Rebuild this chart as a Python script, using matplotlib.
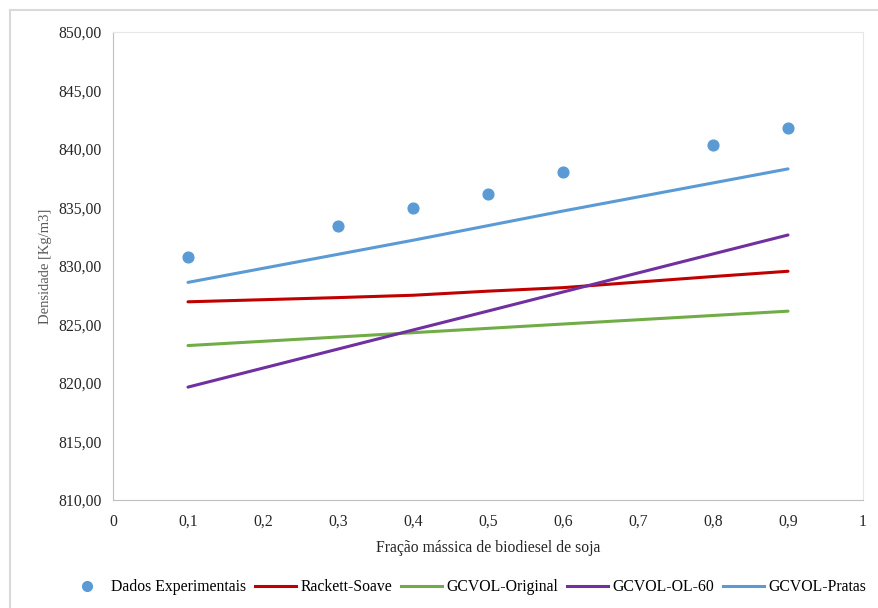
import matplotlib.pyplot as plt
from matplotlib.ticker import FuncFormatter
from matplotlib.lines import Line2D

plt.rcParams['font.family'] = ['Liberation Serif', 'DejaVu Serif']

# fração mássica e dados
x = [0.1, 0.3, 0.4, 0.5, 0.6, 0.8, 0.9]
experimental = [830.8, 833.45, 834.98, 836.18, 838.05, 840.36, 841.81]
rackett = [826.94, 827.3, 827.5, 827.85, 828.15, 829.1, 829.55]
gcvol_orig = [823.2, 823.93, 824.3, 824.67, 825.04, 825.77, 826.14]
gcvol_ol60 = [819.65, 822.9, 824.53, 826.15, 827.78, 831.03, 832.65]
gcvol_pratas = [828.6, 831.0, 832.2, 833.45, 834.7, 837.1, 838.3]

fs = 11.3

fig = plt.figure(figsize=(8.79, 6.08), dpi=100)
ax = fig.add_axes([113/879, 1-500/608, 750/879, 468/608])

ax.plot(x, rackett, color='#C00000', lw=2.2, label='Rackett-Soave', solid_capstyle='round')
ax.plot(x, gcvol_orig, color='#70AD47', lw=2.2, label='GCVOL-Original', solid_capstyle='round')
ax.plot(x, gcvol_ol60, color='#7030A0', lw=2.2, label='GCVOL-OL-60', solid_capstyle='round')
ax.plot(x, gcvol_pratas, color='#5B9BD5', lw=2.2, label='GCVOL-Pratas', solid_capstyle='round')
ax.scatter(x, experimental, color='#5B9BD5', s=60, zorder=5, label='Dados Experimentais')

ax.set_xlim(0, 1)
ax.set_ylim(810, 850)
ax.set_xticks([i/10 for i in range(11)])
ax.set_yticks(range(810, 851, 5))
ax.xaxis.set_major_formatter(FuncFormatter(lambda v, p: ('%g' % round(v, 1)).replace('.', ',')))
ax.yaxis.set_major_formatter(FuncFormatter(lambda v, p: ('%.2f' % v).replace('.', ',')))
ax.tick_params(length=0, labelsize=fs, colors='#262626', pad=8)
ax.tick_params(axis='x', pad=10)

for s in ['left', 'bottom']:
    ax.spines[s].set_color('#BFBFBF')
for s in ['top', 'right']:
    ax.spines[s].set_color('#E6E6E6')

ax.set_xlabel('Fração mássica de biodiesel de soja', fontsize=fs, color='#262626', labelpad=7)
ax.set_ylabel('Densidade [Kg/m3]', fontsize=10.5, color='#595959', labelpad=5)

handles = [
    Line2D([], [], ls='', marker='o', color='#5B9BD5', markersize=7),
    Line2D([], [], color='#C00000', lw=2.2),
    Line2D([], [], color='#70AD47', lw=2.2),
    Line2D([], [], color='#7030A0', lw=2.2),
    Line2D([], [], color='#5B9BD5', lw=2.2),
]
labels = ['Dados Experimentais', 'Rackett-Soave', 'GCVOL-Original', 'GCVOL-OL-60', 'GCVOL-Pratas']
fig.legend(handles, labels, loc='center', bbox_to_anchor=(466/879, 1-587/608), ncol=5,
           frameon=False, fontsize=fs, handlelength=2.6, handletextpad=0.25, columnspacing=0.6)

# borda do gráfico
fig.add_artist(Line2D([10/879, 1], [1-10/608, 1-10/608], color='#D9D9D9', lw=1.5))
fig.add_artist(Line2D([10/879, 10/879], [0, 1-10/608], color='#D9D9D9', lw=1.5))

fig.savefig('out.png', dpi=100)
